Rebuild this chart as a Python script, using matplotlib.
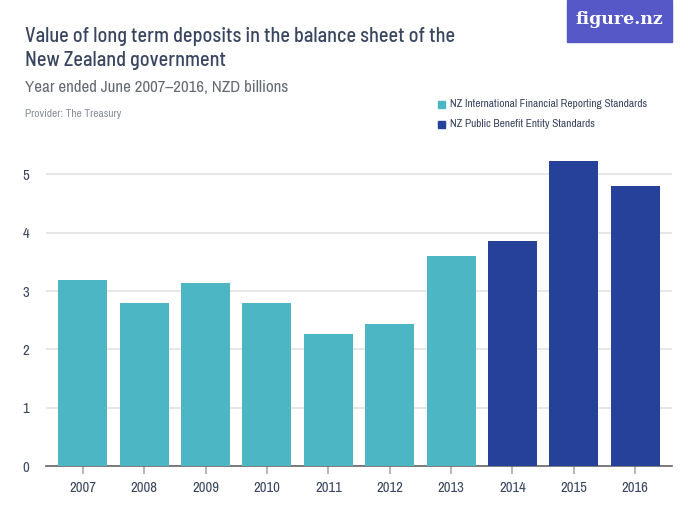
import matplotlib
matplotlib.use('Agg')
import matplotlib.pyplot as plt
from matplotlib.patches import Rectangle

years = ['2007', '2008', '2009', '2010', '2011', '2012', '2013', '2014', '2015', '2016']
values = [3.19, 2.80, 3.14, 2.80, 2.27, 2.44, 3.60, 3.86, 5.23, 4.80]
standard = ['ifrs'] * 7 + ['pbe'] * 3
legend_labels = ['NZ International Financial Reporting Standards', 'NZ Public Benefit Entity Standards']
yticks = [0, 1, 2, 3, 4, 5]

teal = '#4db6c4'
navy = '#26419a'
text_col = '#3a4660'
grey = '#8a8f99'

plt.rcParams['font.family'] = ['Archivo Narrow', 'Liberation Sans Narrow', 'Roboto', 'DejaVu Sans']
title_font = ['Barlow Semi Condensed', 'Archivo Narrow', 'Roboto', 'DejaVu Sans']

fig = plt.figure(figsize=(7, 5.25), dpi=100)
ax = fig.add_axes([46/700, 1 - 466/525, 626/700, 466/525 - 150/525])

colors = [teal if s == 'ifrs' else navy for s in standard]
x = range(len(years))
ax.bar(x, values, width=0.8, color=colors, zorder=3)
ax.set_xlim(-0.6, len(years) - 0.4)
ax.set_ylim(0, 5.42)
ax.set_yticks(yticks)
ax.set_yticklabels([str(t) for t in yticks])
ax.set_xticks(list(x))
ax.set_xticklabels(years)
ax.grid(axis='y', color='#e3e3e3', linewidth=1.2, zorder=0)
for s in ['top', 'right', 'left']:
    ax.spines[s].set_visible(False)
ax.spines['bottom'].set_color('#666666')
ax.spines['bottom'].set_linewidth(1.2)
ax.tick_params(axis='y', length=0, pad=12, labelsize=10.5, labelcolor=text_col)
ax.tick_params(axis='x', length=6, color='#aaaaaa', width=1.2, pad=5, labelsize=10.5, labelcolor=text_col)

fig.text(25/700, 1 - 36/525, 'Value of long term deposits in the balance sheet of the',
         fontsize=14.5, fontweight='medium', color=text_col, va='center', family=title_font)
fig.text(25/700, 1 - 61/525, 'New Zealand government',
         fontsize=14.5, fontweight='medium', color=text_col, va='center', family=title_font)
fig.text(25/700, 1 - 88/525, 'Year ended June 2007\u20132016, NZD billions',
         fontsize=12.2, color='#666b73', va='center')
fig.text(25/700, 1 - 114/525, 'Provider: The Treasury',
         fontsize=8.2, color=grey, va='center')

# legend
for i, (lab, c) in enumerate(zip(legend_labels, [teal, navy])):
    yy = 1 - (104 + 20 * i) / 525
    fig.patches.append(Rectangle((438/700, yy - 3.5/525), 7/700, 7/525,
                                 transform=fig.transFigure, color=c))
    fig.text(450/700, yy, lab, fontsize=8.2, color=text_col, va='center')

# logo
fig.patches.append(Rectangle((567/700, 1 - 42/525), 105/700, 42/525,
                             transform=fig.transFigure, color='#5558c6'))
fig.text(619/700, 1 - 20/525, 'figure.nz', fontsize=12.5, color='white',
         ha='center', va='center', fontweight='bold', family=['DejaVu Serif'])

fig.savefig('out.png', dpi=100)
